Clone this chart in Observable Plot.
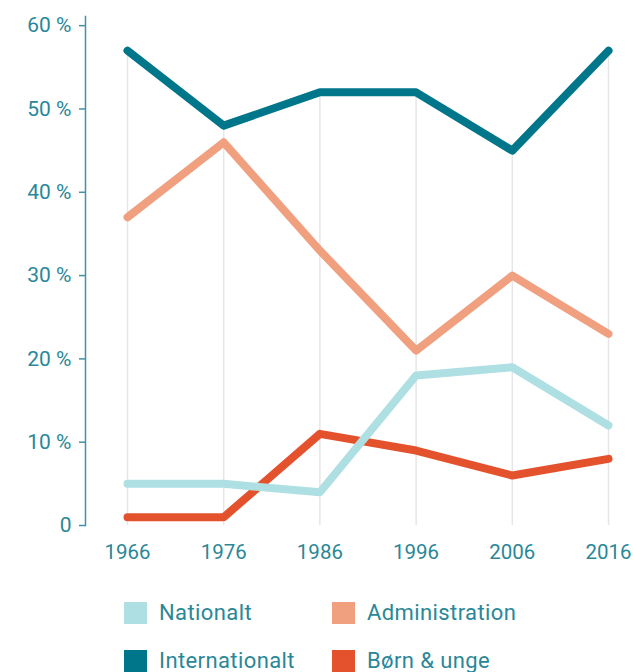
<!DOCTYPE html>
<html>
<head>
<meta charset="utf-8">
<script src="https://cdn.jsdelivr.net/npm/d3@7"></script>
<script src="https://cdn.jsdelivr.net/npm/@observablehq/plot@0.6"></script>
<style>
  html, body { margin: 0; padding: 0; background: #fff; }
  body { width: 633px; height: 672px; overflow: hidden; font-family: Roboto, "DejaVu Sans", sans-serif; }
  #legend { position: relative; height: 92px; }
  .item { position: absolute; display: flex; align-items: center; color: #2a8798; font-size: 22px; letter-spacing: 0.4px; }
  .sw { width: 23px; height: 22px; margin-right: 12px; }
</style>
</head>
<body>
<div id="chart"></div>
<div id="legend"></div>
<script>
const years = [1966, 1976, 1986, 1996, 2006, 2016];
const seriesNames = ["Nationalt", "Administration", "Internationalt", "Børn & unge"];
const nationalt = [5, 5, 4, 18, 19, 12];
const administration = [37, 46, 33, 21, 30, 23];
const internationalt = [57, 48, 52, 52, 45, 57];
const bornUnge = [1, 1, 11, 9, 6, 8];
const yTicks = [0, 10, 20, 30, 40, 50, 60];
const colors = {"Nationalt": "#aedfe3", "Administration": "#f0a07f", "Internationalt": "#00768a", "Børn & unge": "#e4522d"};

const valuesBySeries = {
  "Nationalt": nationalt,
  "Administration": administration,
  "Internationalt": internationalt,
  "Børn & unge": bornUnge
};
const drawOrder = ["Børn & unge", "Nationalt", "Administration", "Internationalt"];
const rows = drawOrder.flatMap(s => years.map((y, i) => ({series: s, year: y, value: valuesBySeries[s][i]})));
const gridRows = years.map((y, i) => ({year: y, top: d3.max(seriesNames, s => valuesBySeries[s][i])}));

const textColor = "#2a8798";

const chart = Plot.plot({
  width: 633,
  height: 580,
  marginTop: 16,
  marginBottom: 55,
  marginLeft: 85,
  marginRight: 25,
  style: {fontFamily: "Roboto, 'DejaVu Sans', sans-serif", fontSize: "20px", color: textColor, background: "#fff"},
  x: {domain: [1966, 2016], insetLeft: 42, ticks: years, tickFormat: d => String(d)},
  y: {domain: [0, 61.1], ticks: yTicks},
  color: {domain: seriesNames, range: seriesNames.map(s => colors[s])},
  marks: [
    Plot.ruleX(gridRows, {x: "year", y1: 0, y2: "top", stroke: "#e6e6e6", strokeWidth: 1.5}),
    Plot.frame({anchor: "left", stroke: "#3f93a4", strokeWidth: 1.5}),
    Plot.axisY({ticks: yTicks, tickSize: 6, tickPadding: 8, tickFormat: d => d === 0 ? "0" : d + " %", fill: textColor, stroke: "#3f93a4", strokeWidth: 1.5, fontSize: 21, label: null}),
    Plot.axisX({ticks: years, tickSize: 0, tickPadding: 19, tickFormat: d => String(d), fill: textColor, fontSize: 20.5, label: null}),
    ...drawOrder.map(s => Plot.line(rows.filter(r => r.series === s), {x: "year", y: "value", stroke: colors[s], strokeWidth: 8, strokeLinecap: "round", strokeLinejoin: "round"}))
  ]
});
document.getElementById("chart").appendChild(chart);

const legend = document.getElementById("legend");
const positions = {
  "Nationalt": [124, 20],
  "Administration": [332, 20],
  "Internationalt": [124, 68],
  "Børn & unge": [332, 68]
};
for (const s of seriesNames) {
  const item = document.createElement("div");
  item.className = "item";
  item.style.left = positions[s][0] + "px";
  item.style.top = positions[s][1] + "px";
  const sw = document.createElement("span");
  sw.className = "sw";
  sw.style.background = colors[s];
  const t = document.createElement("span");
  t.textContent = s;
  item.appendChild(sw);
  item.appendChild(t);
  legend.appendChild(item);
}
</script>
</body>
</html>
